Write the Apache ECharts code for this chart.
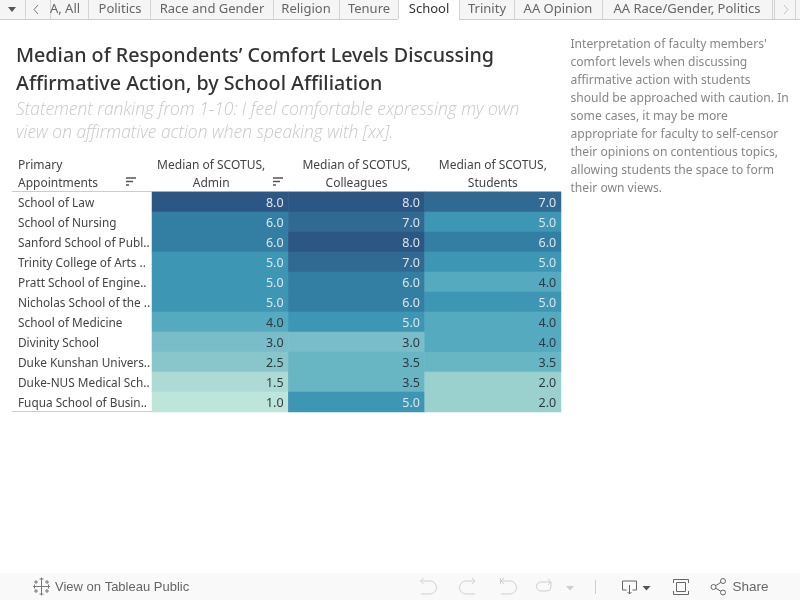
<!DOCTYPE html>
<html><head><meta charset="utf-8">
<style>html,body{margin:0;padding:0;background:#fff}#c{width:800px;height:600px}</style>
<script src="https://cdn.jsdelivr.net/npm/echarts@6/dist/echarts.min.js"></script></head>
<body><div id="c"></div>
<script>
const schools = ['School of Law','School of Nursing','Sanford School of Publ..','Trinity College of Arts ..','Pratt School of Engine..','Nicholas School of the ..','School of Medicine','Divinity School','Duke Kunshan Univers..','Duke-NUS Medical Sch..','Fuqua School of Busin..'];
const measures = ['Median of SCOTUS,\nAdmin','Median of SCOTUS,\nColleagues','Median of SCOTUS,\nStudents'];
const admin = [8,6,6,5,5,5,4,3,2.5,1.5,1];
const colleagues = [8,7,8,7,6,6,5,3,3.5,3.5,5];
const students = [7,5,6,5,4,5,4,4,3.5,2,2];
const scaleValues = [1,1.5,2,2.5,3,3.5,4,5,6,7,8];
const scaleColors = ['#bee5da','#addad4','#9ad1cf','#89c6cc','#78bdc8','#68b5c4','#55aabf','#3c96b4','#337fa3','#306a93','#2c5785'];
const tabs = ['A, All','Politics','Race and Gender','Religion','Tenure','School','Trinity','AA Opinion','AA Race/Gender, Politics'];
const tabCenters = [65,120,212,306,369,429,487,558,687];
const tabSeps = [25,50,88,150,273,339,398,459,514,602,772,774,795];
const note = ["Interpretation of faculty members'","comfort levels when discussing","affirmative action with students","should be approached with caution. In","some cases, it may be more","appropriate for faculty to self-censor","their opinions on contentious topics,","allowing students the space to form","their own views."];

const F = '"Noto Sans"';
const series3 = [admin, colleagues, students];
const cells = [];
series3.forEach((vals, c) => vals.forEach((v, r) => cells.push({
  value: [c, r, v],
  label: { color: v >= 5 ? '#dce6ec' : '#2e3a40' }
})));

const g = [];
let pathId = 0;
const line = (x1,y1,x2,y2,stroke,lw=1) => g.push({type:'line',silent:true,shape:{x1,y1,x2,y2},style:{stroke,lineWidth:lw}});
const text = (x,y,t,font,fill,extra={}) => g.push({type:'text',silent:true,x,y,style:Object.assign({text:t,font,fill,textVerticalAlign:'middle'},extra)});
const rect = (x,y,w,h,fill) => g.push({type:'rect',silent:true,shape:{x,y,width:w,height:h},style:{fill}});
const path = (d,stroke,fill='none',lw=1) => {
  const name = 'icon' + (pathId++);
  echarts.graphic.registerShape(name, echarts.graphic.extendPath(d));
  g.push({type:name,silent:true,style:{stroke,fill,lineWidth:lw}});
};

// tab strip
rect(0,0,800,19,'#f5f5f5');
rect(398.5,0,60.5,20,'#ffffff');
line(0,19.5,398,19.5,'#cccccc'); line(459,19.5,800,19.5,'#cccccc');
tabSeps.forEach(x => line(x+.5,0,x+.5,19,'#d4d4d4'));
tabs.forEach((t,i) => text(tabCenters[i],9.5,t,'13px '+F,i===5?'#333333':'#666666',{textAlign:'center'}));
g.push({type:'polygon',silent:true,shape:{points:[[8,7],[16,7],[12,12]]},style:{fill:'#555555'}});
path('M38 5 L34 9.5 L38 14','#777777');
path('M784 5 L788 9.5 L784 14','#c4c4c4');

// headings
text(16,56.5,"Median of Respondents’ Comfort Levels Discussing",'500 19.7px '+F,'#333333');
text(16,84.5,'Affirmative Action, by School Affiliation','500 19.7px '+F,'#333333');
text(16,110,'Statement ranking from 1-10: I feel comfortable expressing my own','italic 300 17.4px "Open Sans"','#c8c8c8');
text(16,133,'view on affirmative action when speaking with [xx].','italic 300 17.4px "Open Sans"','#c8c8c8');
note.forEach((t,i) => text(570.5,44.5+18*i,t,'12.1px '+F,'#868686'));

// table furniture
text(18,166,'Primary','12px '+F,'#444444');
text(18,184,'Appointments','12px '+F,'#444444');
[126,273].forEach(x => { line(x,178,x+10,178,'#555555',1.5); line(x,181.5,x+7,181.5,'#555555',1.5); line(x,185,x+3,185,'#555555',1.5); });
line(12,191.5,561,191.5,'#cccccc');
line(12,411.5,561,411.5,'#cccccc');

// toolbar
rect(0,573,800,27,'#f9f9f9');
text(55,587,'View on Tableau Public','13px "Liberation Sans"','#666666');
path('M41.5 581 V592 M36 586.5 H47 M41.5 577.5 V581 M39.5 579 H43.5 M41.5 592 V595.5 M39.5 594 H43.5 M33 586.5 H36 M34.5 584.5 V588.5 M47 586.5 H50 M48.5 584.5 V588.5 M36 580 V584 M34 582 H38 M47 580 V584 M45 582 H49 M36 589 V593 M34 591 H38 M47 589 V593 M45 591 H49','#777777');
const dis='#cfcfcf';
path('M420.5 581 H430 A6.5 6.5 0 0 1 430 594 H421 M423.5 578 L420.5 581 L423.5 584',dis);
path('M475 581 H466 A6.5 6.5 0 0 0 466 594 H475 M472 578 L475 581 L472 584',dis);
path('M500.5 578 V584 M501 581 H510 A6.5 6.5 0 0 1 510 594 H501 M504 578 L501 581 L504 584',dis);
path('M541 582 H551 V587 A4 4 0 0 1 547 591 H541 A4.5 4.5 0 0 1 541 582 M548 579 L551 582 L548 585',dis);
g.push({type:'polygon',silent:true,shape:{points:[[566,586],[574,586],[570,590.5]]},style:{fill:dis}});
line(595.5,580,595.5,594,dis);
path('M626.5 590 H622.5 V581 H636.5 V590 H632.5 M629.5 585 V594 M627.5 592 L629.5 594 L631.5 592','#666666');
g.push({type:'polygon',silent:true,shape:{points:[[642.5,586],[650.5,586],[646.5,590.5]]},style:{fill:'#555555'}});
path('M673.5 583 V579.5 H688.5 V583 M673.5 591 V594.5 H688.5 V591','#666666');
path('M676.5 582.5 H685.5 V591.5 H676.5 Z','#666666');
path('M713.5 587 L723 581 M713.5 587 L723 592.5','#666666');
g.push({type:'circle',silent:true,shape:{cx:713.5,cy:587,r:2.5},style:{stroke:'#666666',fill:'#f9f9f9'}});
g.push({type:'circle',silent:true,shape:{cx:723,cy:581,r:2.5},style:{stroke:'#666666',fill:'#f9f9f9'}});
g.push({type:'circle',silent:true,shape:{cx:723,cy:592.5,r:2.5},style:{stroke:'#666666',fill:'#f9f9f9'}});
text(732.5,587,'Share','13.5px "Liberation Sans"','#666666');

const chart = echarts.init(document.getElementById('c'), null, {renderer:'canvas'});
chart.setOption({
  animation:false,
  backgroundColor:'#ffffff',
  grid:{left:152,top:192,width:409,height:220,containLabel:false},
  xAxis:{type:'category',position:'top',data:measures.map((m,i)=> i===0 ? {value:m,textStyle:{padding:[0,18,0,0]}} : m),
    axisLine:{show:false},axisTick:{show:false},splitLine:{show:false},splitArea:{show:false},
    axisLabel:{interval:0,margin:-1,color:'#444444',fontFamily:F,fontSize:12,lineHeight:18}},
  yAxis:{type:'category',inverse:true,data:schools,
    axisLine:{show:false},axisTick:{show:false},splitLine:{show:false},splitArea:{show:false},
    axisLabel:{interval:0,align:'left',margin:134,color:'#444444',fontFamily:F,fontSize:11.8,
      formatter:v=>'{a|'+v+'}',
      rich:{a:{padding:[4,0,0,0],color:'#444444',fontFamily:F,fontSize:11.8}}}},
  visualMap:{show:false,type:'piecewise',dimension:2,seriesIndex:0,
    pieces:scaleValues.map((v,i)=>({value:v,color:scaleColors[i]}))},
  series:[{type:'heatmap',data:cells,progressive:0,
    itemStyle:{borderWidth:0},
    emphasis:{disabled:true},
    label:{show:true,position:'insideRight',distance:5,offset:[0,1],fontFamily:F,fontSize:12.5,
      formatter:p=>p.value[2].toFixed(1)}}],
  graphic:{elements:g}
});
</script></body></html>
